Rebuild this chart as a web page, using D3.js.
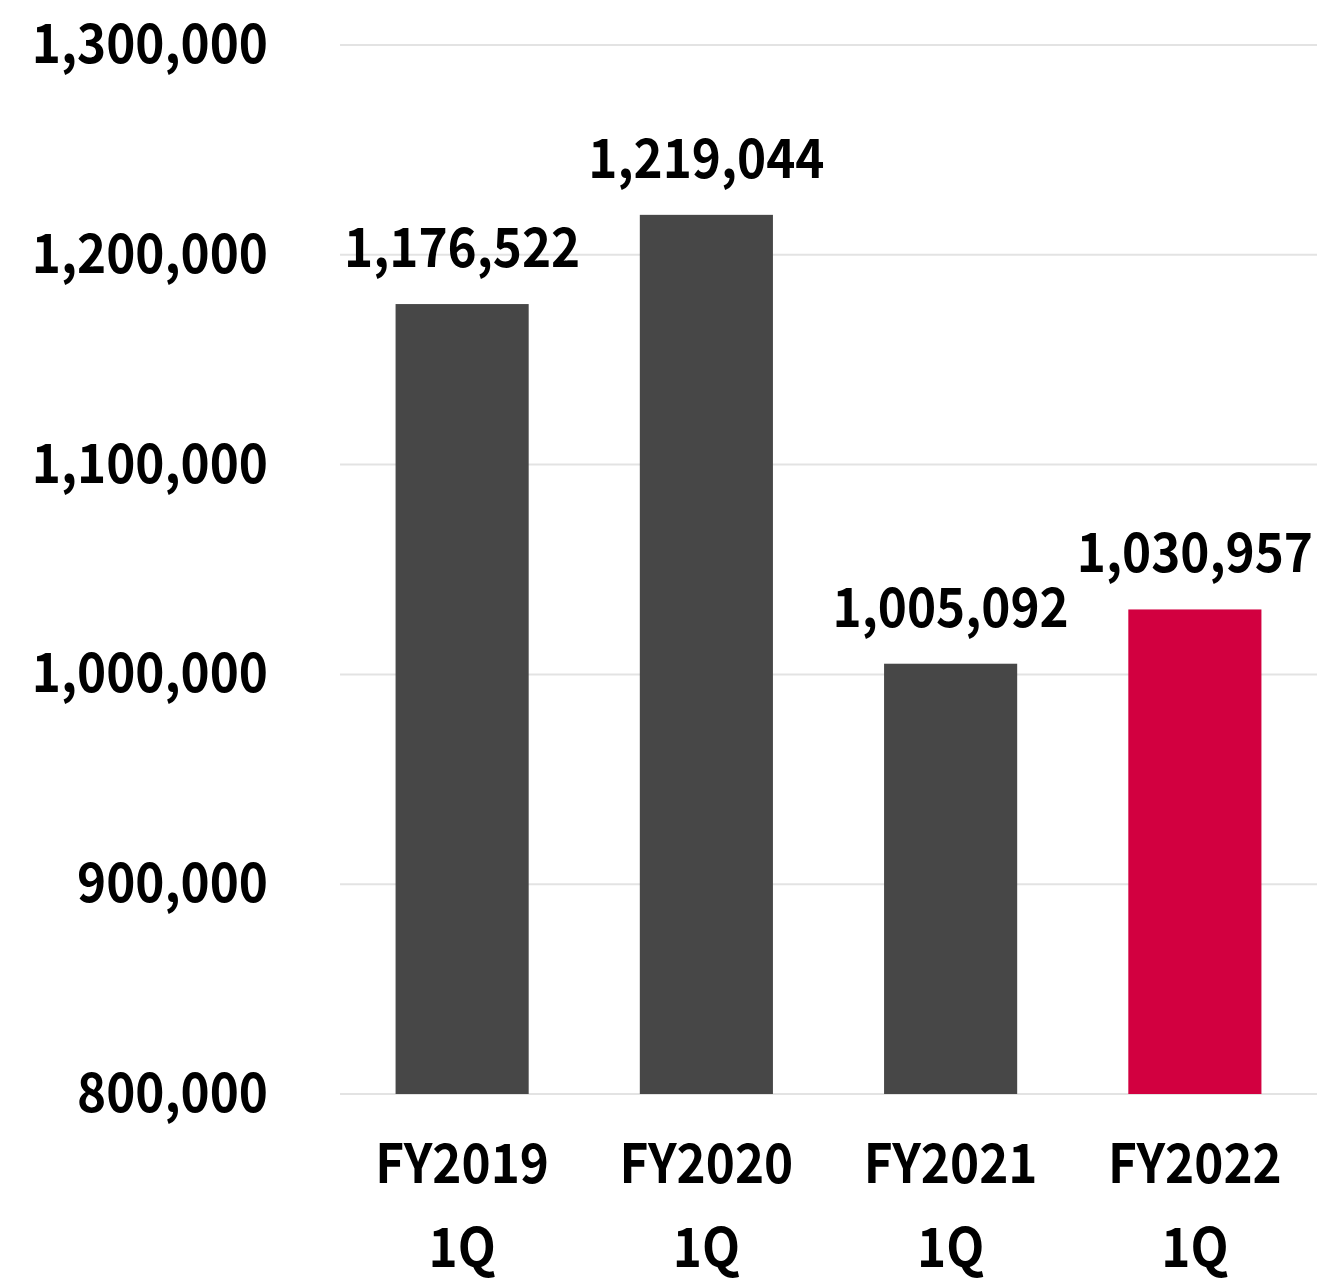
<!DOCTYPE html>
<html>
<head>
<meta charset="utf-8">
<script src="https://cdn.jsdelivr.net/npm/d3@7"></script>
<style>
  body { margin: 0; background: #fff; }
  text { font-family: "Noto Sans CJK JP", "Noto Sans", sans-serif; font-weight: bold; fill: #000; }
</style>
</head>
<body>
<div id="chart"></div>
<script>
// data
var categories = ["FY2019", "FY2020", "FY2021", "FY2022"];
var subLabels = ["1Q", "1Q", "1Q", "1Q"];
var values = [1176522, 1219044, 1005092, 1030957];
var barColors = ["#474747", "#474747", "#474747", "#d20040"];
var yTicks = [800000, 900000, 1000000, 1100000, 1200000, 1300000];

var svgWidth = 1327;
var svgHeight = 1284;

var margin = { top: 45, right: 10, bottom: 190, left: 340 };
var width = svgWidth - margin.left - margin.right;
var height = svgHeight - margin.top - margin.bottom;

// the reference font is a bit narrower than Noto, so squeeze text horizontally
var fontSize = 54;
var squeeze = 0.915;
var fmt = d3.format(",");

var svg = d3.select("#chart")
  .append("svg")
  .attr("width", svgWidth)
  .attr("height", svgHeight);

var chartGroup = svg.append("g")
  .attr("transform", `translate(${margin.left}, ${margin.top})`);

var xScale = d3.scaleBand()
  .domain(categories)
  .range([0, width])
  .paddingInner(0.455)
  .paddingOuter(0.2275);

var yScale = d3.scaleLinear()
  .domain([800000, 1300000])
  .range([height, 0]);

// gridlines
chartGroup.selectAll(".grid")
  .data(yTicks)
  .enter()
  .append("line")
  .attr("x1", 0)
  .attr("x2", width)
  .attr("y1", d => yScale(d))
  .attr("y2", d => yScale(d))
  .attr("stroke", "#e3e3e3")
  .attr("stroke-width", 2);

// y tick labels
chartGroup.selectAll(".ytick")
  .data(yTicks)
  .enter()
  .append("text")
  .attr("class", "ytick")
  .attr("text-anchor", "end")
  .attr("font-size", fontSize)
  .attr("transform", d => `translate(-72, ${yScale(d) + 18}) scale(${squeeze}, 1)`)
  .text(d => fmt(d));

// bars
chartGroup.selectAll(".bar")
  .data(values)
  .enter()
  .append("rect")
  .attr("class", "bar")
  .attr("x", (d, i) => xScale(categories[i]))
  .attr("y", d => yScale(d))
  .attr("width", xScale.bandwidth())
  .attr("height", d => height - yScale(d))
  .attr("fill", (d, i) => barColors[i]);

// value labels
chartGroup.selectAll(".value")
  .data(values)
  .enter()
  .append("text")
  .attr("class", "value")
  .attr("text-anchor", "middle")
  .attr("font-size", fontSize)
  .attr("transform", (d, i) =>
    `translate(${xScale(categories[i]) + xScale.bandwidth() / 2}, ${yScale(d) - 37}) scale(${squeeze}, 1)`)
  .text(d => fmt(d));

// x labels (two lines)
chartGroup.selectAll(".xlabel")
  .data(categories)
  .enter()
  .append("text")
  .attr("class", "xlabel")
  .attr("text-anchor", "middle")
  .attr("font-size", fontSize)
  .attr("transform", d => `translate(${xScale(d) + xScale.bandwidth() / 2}, ${height + 89}) scale(${squeeze}, 1)`)
  .text(d => d);

chartGroup.selectAll(".xsub")
  .data(subLabels)
  .enter()
  .append("text")
  .attr("class", "xsub")
  .attr("text-anchor", "middle")
  .attr("font-size", fontSize)
  .attr("transform", (d, i) => `translate(${xScale(categories[i]) + xScale.bandwidth() / 2}, ${height + 173}) scale(${squeeze}, 1)`)
  .text(d => d);
</script>
</body>
</html>
